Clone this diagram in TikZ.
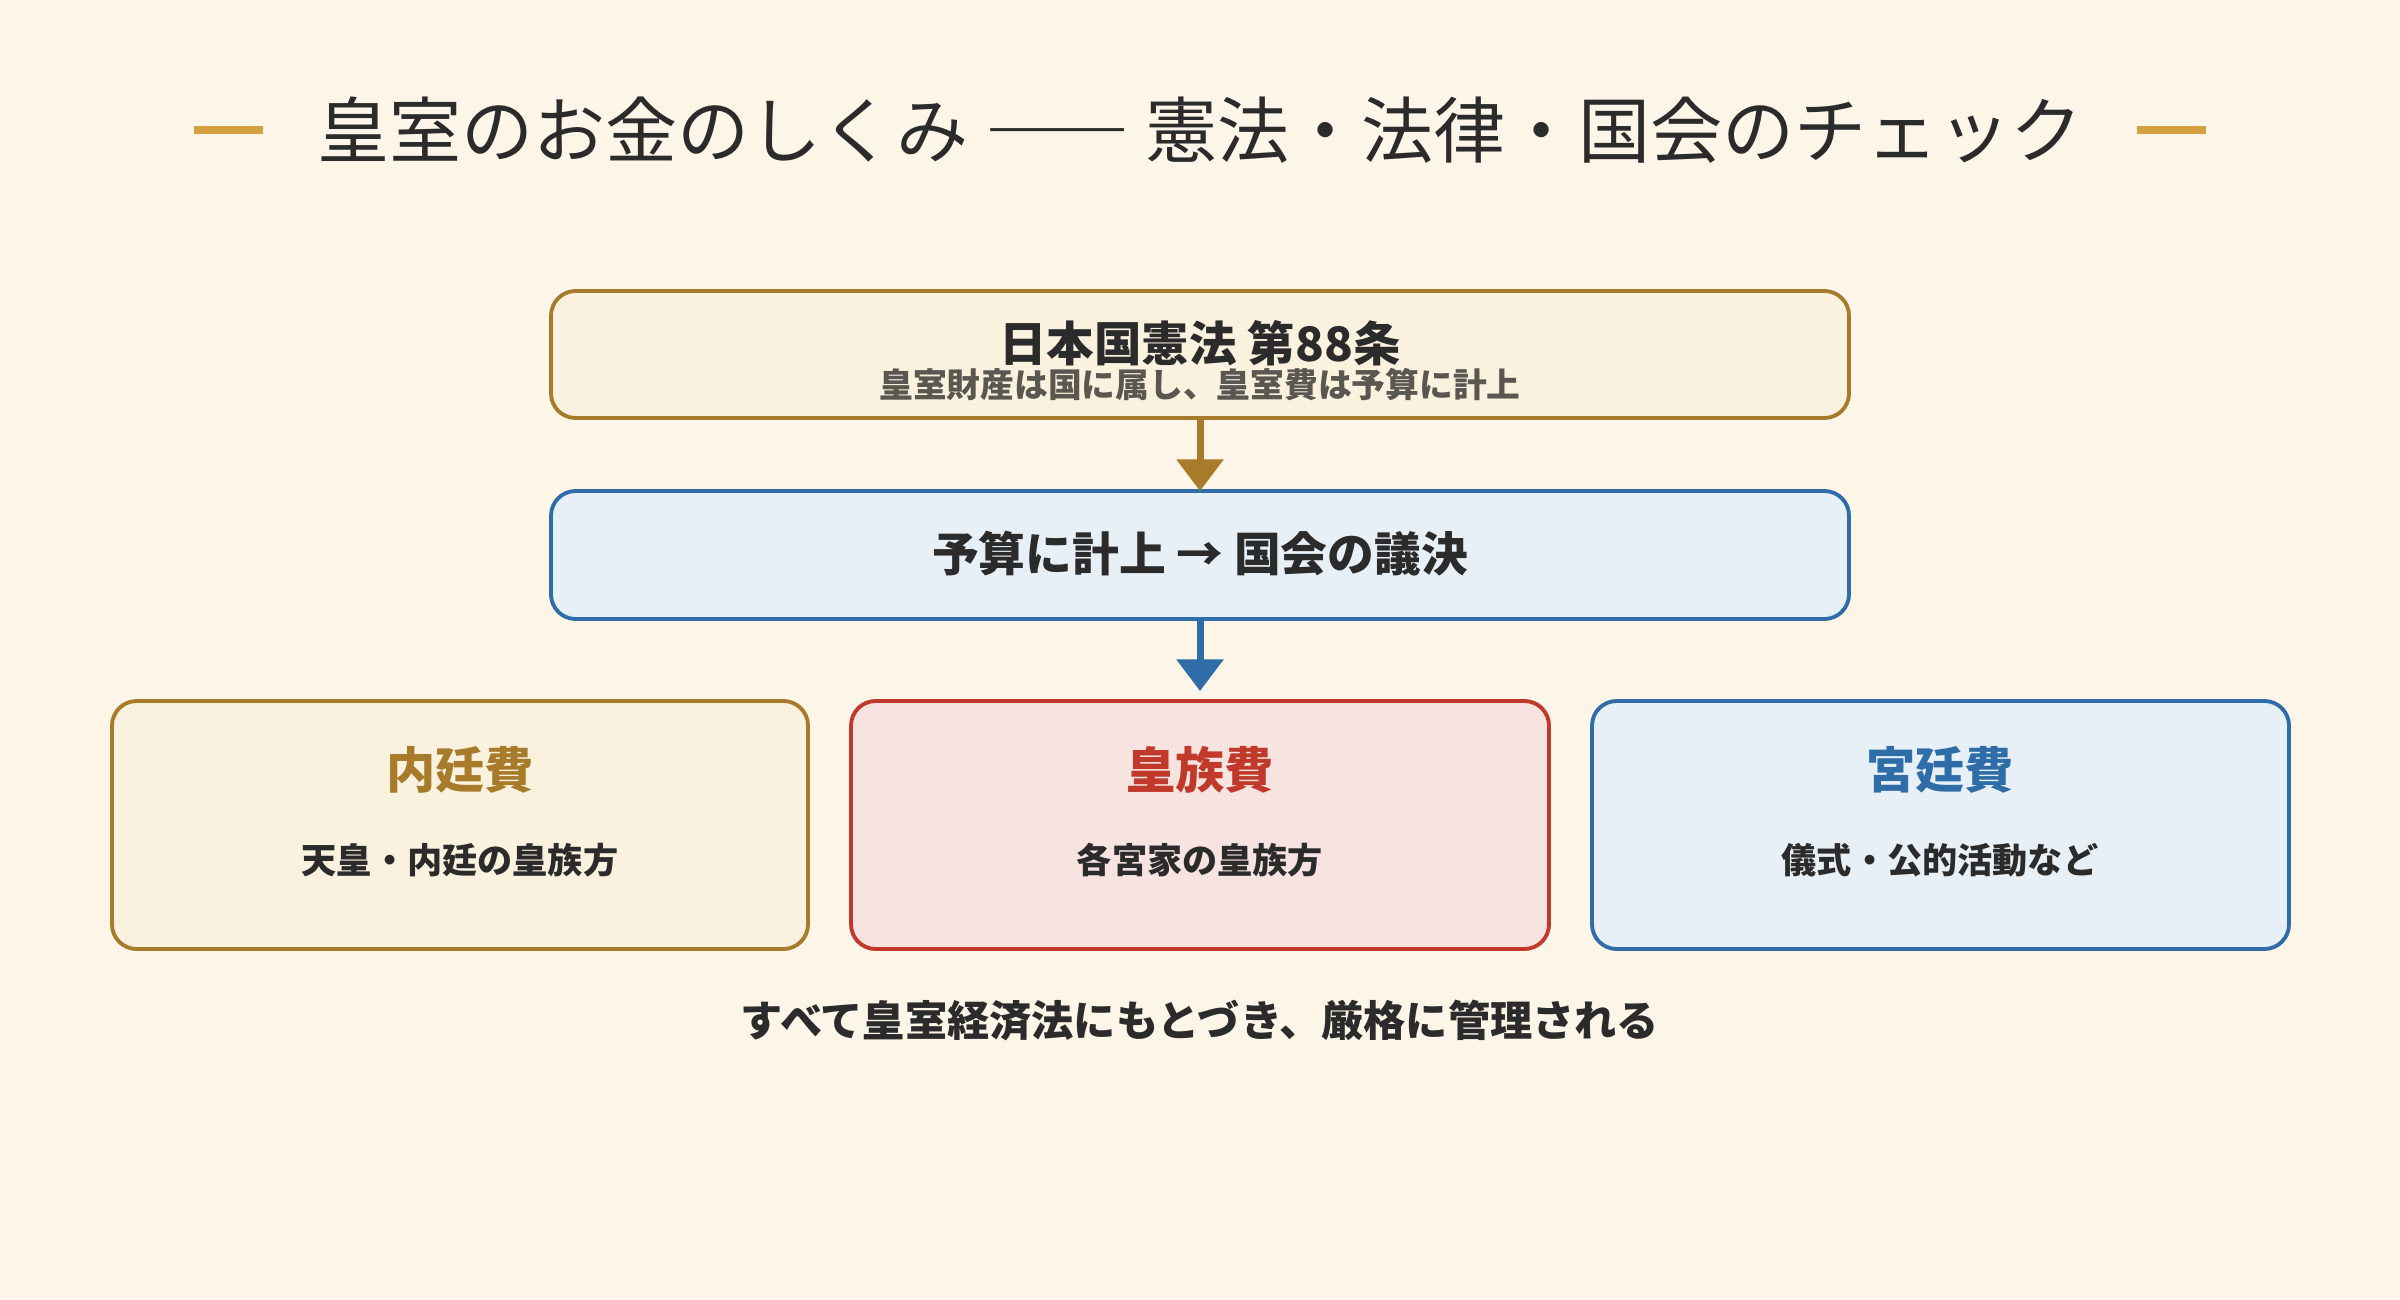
\documentclass[tikz,border=0pt]{standalone}
\usepackage{fontspec}
\setmainfont{Noto Sans CJK JP}
\newfontfamily\titlefont{Noto Sans CJK JP}
\usetikzlibrary{arrows.meta}
\definecolor{bgcol}{HTML}{FCF5E8}
\definecolor{goldline}{HTML}{D4A040}
\definecolor{brownc}{HTML}{A87B2A}
\definecolor{brownfill}{HTML}{FBF1DF}
\definecolor{bluec}{HTML}{2E6DA8}
\definecolor{bluefill}{HTML}{E8F0F7}
\definecolor{redc}{HTML}{C0392B}
\definecolor{redfill}{HTML}{F7E3E0}
\definecolor{darktxt}{HTML}{2B2B2B}
\definecolor{greytxt}{HTML}{5A5650}
\tikzset{
  box/.style={draw,rounded corners=7pt,line width=1.1pt,minimum height=2.3cm},
  flow/.style={line width=2pt,-{Triangle[width=13pt,length=9pt]}},
}

\begin{document}
\begin{tikzpicture}[x=0.01cm,y=-0.01cm]
            \fill[bgcol] (0,0) rectangle (2400,1300);
            % title
            \draw[goldline,line width=2.3pt] (194,130)--(263,130);
            \draw[goldline,line width=2.3pt] (2137,130)--(2206,130);
            \node (title) at (1200,130) {\titlefont\fontsize{20.5}{22}\selectfont\color{darktxt} 皇室のお金のしくみ ―― 憲法・法律・国会のチェック};
            % boxes
            \draw[box,brownc,fill=brownfill] (551,291) rectangle (1849,418);
            \node (law) at (1200,343) {\bfseries\fontsize{13.5}{15}\selectfont\color{darktxt} 日本国憲法 第88条};
            \node (lawsub) at (1200,385) {\bfseries\fontsize{9.6}{11}\selectfont\color{greytxt} 皇室財産は国に属し、皇室費は予算に計上};
            \coordinate (lawb) at (1200,418);
            \coordinate (dieta) at (1200,491);
            \draw[box,bluec,fill=bluefill] (551,491) rectangle (1849,619);
            \node (diet) at (1200,554) {\bfseries\fontsize{13.3}{15}\selectfont\color{darktxt} 予算に計上 → 国会の議決};
            \coordinate (dietb) at (1200,619);
            \coordinate (redt) at (1200,691);
            \draw[flow,brownc] (lawb)--(dieta);
            \draw[flow,bluec] (dietb)--(redt);
            \draw[box,brownc,fill=brownfill] (112,701) rectangle (808,949);
            \draw[box,redc,fill=redfill] (851,701) rectangle (1549,949);
            \draw[box,bluec,fill=bluefill] (1592,701) rectangle (2289,949);
            \node (naitei) at (460,770) {\bfseries\fontsize{14}{16}\selectfont\color{brownc} 内廷費};
            \node (naiteisub) at (460,860) {\bfseries\fontsize{10}{12}\selectfont\color{darktxt} 天皇・内廷の皇族方};
            \node (kozoku) at (1200,770) {\bfseries\fontsize{14}{16}\selectfont\color{redc} 皇族費};
            \node (kozokusub) at (1200,860) {\bfseries\fontsize{10}{12}\selectfont\color{darktxt} 各宮家の皇族方};
            \node (kyutei) at (1940,770) {\bfseries\fontsize{14}{16}\selectfont\color{bluec} 宮廷費};
            \node (kyuteisub) at (1940,860) {\bfseries\fontsize{10}{12}\selectfont\color{darktxt} 儀式・公的活動など};
            % footer
            \node (foot) at (1200,1020) {\bfseries\fontsize{12}{14}\selectfont\color{darktxt} すべて皇室経済法にもとづき、厳格に管理される};
        \end{tikzpicture}
\end{document}
